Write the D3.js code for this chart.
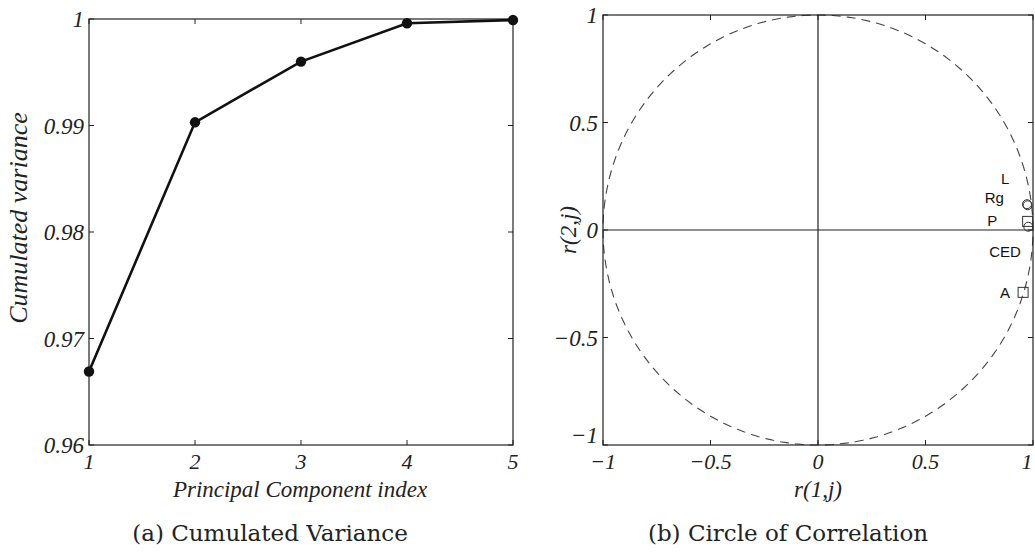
<!DOCTYPE html>
<html><head><meta charset="utf-8">
<script src="https://cdn.jsdelivr.net/npm/d3@7"></script>
<style>body{margin:0;background:#fff}svg{display:block}
.tk{font-family:"Liberation Serif","Times New Roman",serif;font-style:italic;font-size:23px;fill:#222}
.tkx{font-size:22px}
.axl{font-family:"Liberation Serif","Times New Roman",serif;font-style:italic;font-size:23px;fill:#222}
.cap{font-family:"DejaVu Serif","Liberation Serif",serif;font-size:23px;fill:#222}
.lab{font-family:"Liberation Sans",Arial,sans-serif;font-size:15px;fill:#111}
</style>
</head><body><svg id="c" width="1035" height="554"></svg>
<script>
// ---- data ----
const components = [1, 2, 3, 4, 5];
const cumVariance = [0.9669, 0.9903, 0.9960, 0.9996, 0.9999];
const varTicks = [0.96, 0.97, 0.98, 0.99, 1];
const varTickLabels = ["0.96", "0.97", "0.98", "0.99", "1"];
const corrTicks = [-1, -0.5, 0, 0.5, 1];
const corrTickLabels = ["\u22121", "\u22120.5", "0", "0.5", "1"];
const variables = ["L", "Rg", "P", "CED", "A"];
const r1 = [0.972, 0.975, 0.975, 0.978, 0.954];
const r2 = [0.12, 0.115, 0.04, 0.015, -0.29];
const markerShapes = ["circle", "circle", "square", "circle", "square"];
const labelR1 = [0.87, 0.82, 0.81, 0.87, 0.87];
const labelR2 = [0.235, 0.15, 0.04, -0.10, -0.295];

const svg = d3.select("#c");
const ink = "#222";

function frame(g, x, y, xt, xl, yt, yl, lowShift) {
  const [x0, x1] = x.range(), [y1, y0] = y.range();
  g.append("rect").attr("x", x0).attr("y", y0).attr("width", x1 - x0).attr("height", y1 - y0)
    .attr("fill", "none").attr("stroke", ink).attr("stroke-width", 1.2);
  const tl = 5;
  g.selectAll(null).data(xt).join("line")
    .attr("x1", d => x(d)).attr("x2", d => x(d)).attr("y1", y1).attr("y2", y1 - tl).attr("stroke", ink);
  g.selectAll(null).data(xt).join("line")
    .attr("x1", d => x(d)).attr("x2", d => x(d)).attr("y1", y0).attr("y2", y0 + tl).attr("stroke", ink);
  g.selectAll(null).data(yt).join("line")
    .attr("y1", d => y(d)).attr("y2", d => y(d)).attr("x1", x0).attr("x2", x0 + tl).attr("stroke", ink);
  g.selectAll(null).data(yt).join("line")
    .attr("y1", d => y(d)).attr("y2", d => y(d)).attr("x1", x1).attr("x2", x1 - tl).attr("stroke", ink);
  g.selectAll(null).data(xt).join("text").attr("class", "tk tkx")
    .attr("x", d => Math.min(x(d), 1027)).attr("y", y1 + 24).attr("text-anchor", "middle")
    .text((d, i) => xl[i]);
  g.selectAll(null).data(yt).join("text").attr("class", "tk")
    .attr("x", x0 - 5).attr("y", (d, i) => y(d) + 8 - (i === 0 ? (lowShift || 0) : 0)).attr("text-anchor", "end")
    .text((d, i) => yl[i]);
}

// ---- panel (a) ----
const xa = d3.scaleLinear().domain([1, 5]).range([89, 513]);
const ya = d3.scaleLinear().domain([0.96, 1]).range([445, 19]);
const ga = svg.append("g");
frame(ga, xa, ya, components, components.map(String), varTicks, varTickLabels, 0);
ga.append("path").datum(components.map((c, i) => [c, cumVariance[i]]))
  .attr("d", d3.line().x(d => xa(d[0])).y(d => ya(d[1])))
  .attr("fill", "none").attr("stroke", "#111").attr("stroke-width", 2.6);
ga.selectAll(null).data(components).join("circle")
  .attr("cx", d => xa(d)).attr("cy", (d, i) => ya(cumVariance[i])).attr("r", 5.2).attr("fill", "#111");
ga.append("text").attr("class", "axl").attr("x", 300).attr("y", 497).attr("text-anchor", "middle")
  .text("Principal Component index");
ga.append("text").attr("class", "axl").style("font-size", "26px")
  .attr("transform", "translate(27,218) rotate(-90)").attr("text-anchor", "middle")
  .text("Cumulated variance");
ga.append("text").attr("class", "cap").attr("x", 270).attr("y", 541).attr("text-anchor", "middle")
  .text("(a) Cumulated Variance");

// ---- panel (b) ----
const xb = d3.scaleLinear().domain([-1, 1]).range([603, 1033]);
const yb = d3.scaleLinear().domain([-1, 1]).range([445, 15]);
const gb = svg.append("g");
gb.append("line").attr("x1", xb(-1)).attr("x2", xb(1)).attr("y1", yb(0)).attr("y2", yb(0))
  .attr("stroke", ink).attr("stroke-width", 1.2);
gb.append("line").attr("x1", xb(0)).attr("x2", xb(0)).attr("y1", yb(-1)).attr("y2", yb(1))
  .attr("stroke", ink).attr("stroke-width", 1.2);
const circ = d3.range(0, 361, 2).map(a => [Math.cos(a * Math.PI / 180), Math.sin(a * Math.PI / 180)]);
gb.append("path").datum(circ).attr("d", d3.line().x(d => xb(d[0])).y(d => yb(d[1])))
  .attr("fill", "none").attr("stroke", "#444").attr("stroke-width", 1.1).attr("stroke-dasharray", "9,6");
frame(gb, xb, yb, corrTicks, corrTickLabels, corrTicks, corrTickLabels, 10);
variables.forEach((v, i) => {
  const px = xb(r1[i]), py = yb(r2[i]);
  if (markerShapes[i] === "circle") {
    gb.append("circle").attr("cx", px).attr("cy", py).attr("r", 4.5)
      .attr("fill", "none").attr("stroke", "#333").attr("stroke-width", 1);
  } else {
    gb.append("rect").attr("x", px - 5).attr("y", py - 5).attr("width", 10).attr("height", 10)
      .attr("fill", "none").attr("stroke", "#333").attr("stroke-width", 1);
  }
});
gb.selectAll(null).data(variables).join("text").attr("class", "lab")
  .attr("x", (d, i) => xb(labelR1[i])).attr("y", (d, i) => yb(labelR2[i]) + 5)
  .attr("text-anchor", "middle").text(d => d);
gb.append("text").attr("class", "axl").attr("x", xb(0)).attr("y", 497).attr("text-anchor", "middle")
  .text("r(1,j)");
gb.append("text").attr("class", "axl").attr("transform", "translate(576,230) rotate(-90)").attr("text-anchor", "middle")
  .text("r(2,j)");
gb.append("text").attr("class", "cap").attr("x", 788).attr("y", 541).attr("text-anchor", "middle")
  .text("(b) Circle of Correlation");
</script></body></html>
